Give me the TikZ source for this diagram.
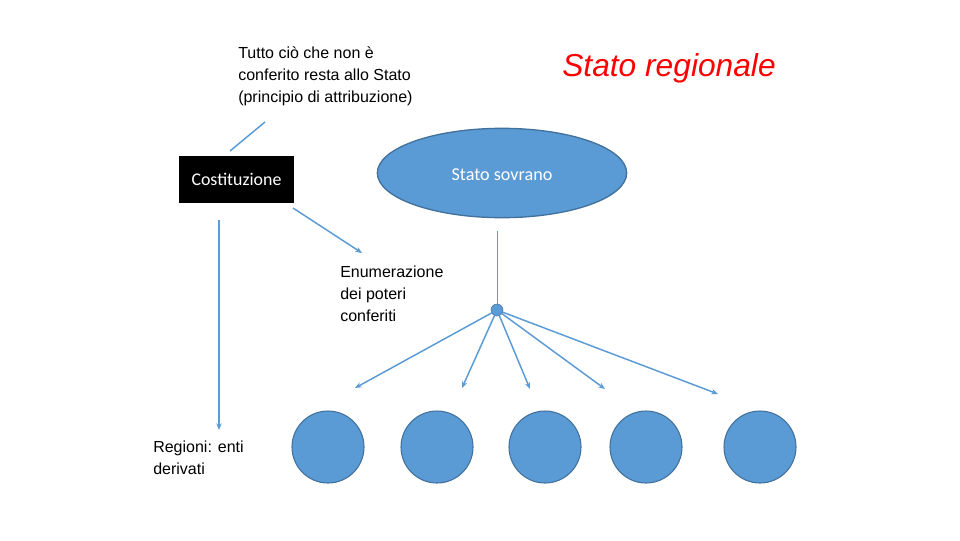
\documentclass[tikz,border=0pt]{standalone}
\usepackage{fontspec}
\setmainfont{Liberation Sans}
\newfontfamily\carfont{Carlito}
\usetikzlibrary{arrows.meta,shapes.geometric}
\definecolor{fillb}{HTML}{5B9BD5}
\definecolor{edgeb}{HTML}{41719C}
\definecolor{lineb}{HTML}{5B9BD5}
\begin{document}
\begin{tikzpicture}[x=0.75pt,y=-0.75pt,
  conn/.style={draw=lineb,line width=1.1pt},
  arr/.style={conn,-{Stealth[length=5pt,width=4pt]}},
  bigc/.style={circle,fill=fillb,draw=edgeb,line width=0.8pt,minimum size=54pt,inner sep=0pt},
  txt/.style={align=left,anchor=north west,inner sep=0pt,font=\fontsize{12}{16.5}\selectfont}]
\useasboundingbox (0,0) rectangle (960,540);
\fill[white] (0,0) rectangle (960,540);
\node[anchor=center,text=red,font=\fontsize{23.8}{26}\itshape] (title) at (669,68) {Stato regionale};
\node[txt] (top) at (238,46) {Tutto ciò che non è\\conferito resta allo Stato\\(principio di attribuzione)};
\node[fill=black,text=white,minimum width=86pt,minimum height=35pt,inner sep=0pt,font=\carfont\fontsize{13.4}{15}\selectfont] (cost) at (236.5,179.5) {Costituzione};
\node[ellipse,fill=fillb,draw=edgeb,line width=1pt,minimum width=187pt,minimum height=67pt,inner sep=0pt] (ell) at (502,173) {};
\node[text=white,font=\carfont\fontsize{13.6}{15}\selectfont] (ss) at (502,175) {Stato sovrano};
\node[circle,fill=fillb,draw=edgeb,minimum size=9pt,inner sep=0pt] (hub) at (497,310) {};
\coordinate (st) at (497,231);
\draw[conn,line width=0.7pt] (st) -- (hub);
\node[txt] (enum) at (340,266) {Enumerazione\\dei poteri\\conferiti};
\node[txt] (reg) at (153,441) {Regioni: enti\\derivati};
\foreach \i/\x in {1/328,2/437,3/545,4/646,5/760} \node[bigc] (c\i) at (\x,447) {};
\coordinate (t1) at (355,388); \coordinate (t2) at (462,388); \coordinate (t3) at (530,389);
\coordinate (t4) at (605,389); \coordinate (t5) at (718,394);
\foreach \i in {1,...,5} \draw[arr] (hub) -- (t\i);
\coordinate (a1) at (265,122); \coordinate (a2) at (230,151);
\draw[conn] (a1) -- (a2);
\coordinate (b1) at (293,208); \coordinate (b2) at (362,253);
\draw[arr] (b1) -- (b2);
\coordinate (v1) at (219,220); \coordinate (v2) at (219,430);
\draw[arr] (v1) -- (v2);
\end{tikzpicture}
\end{document}
